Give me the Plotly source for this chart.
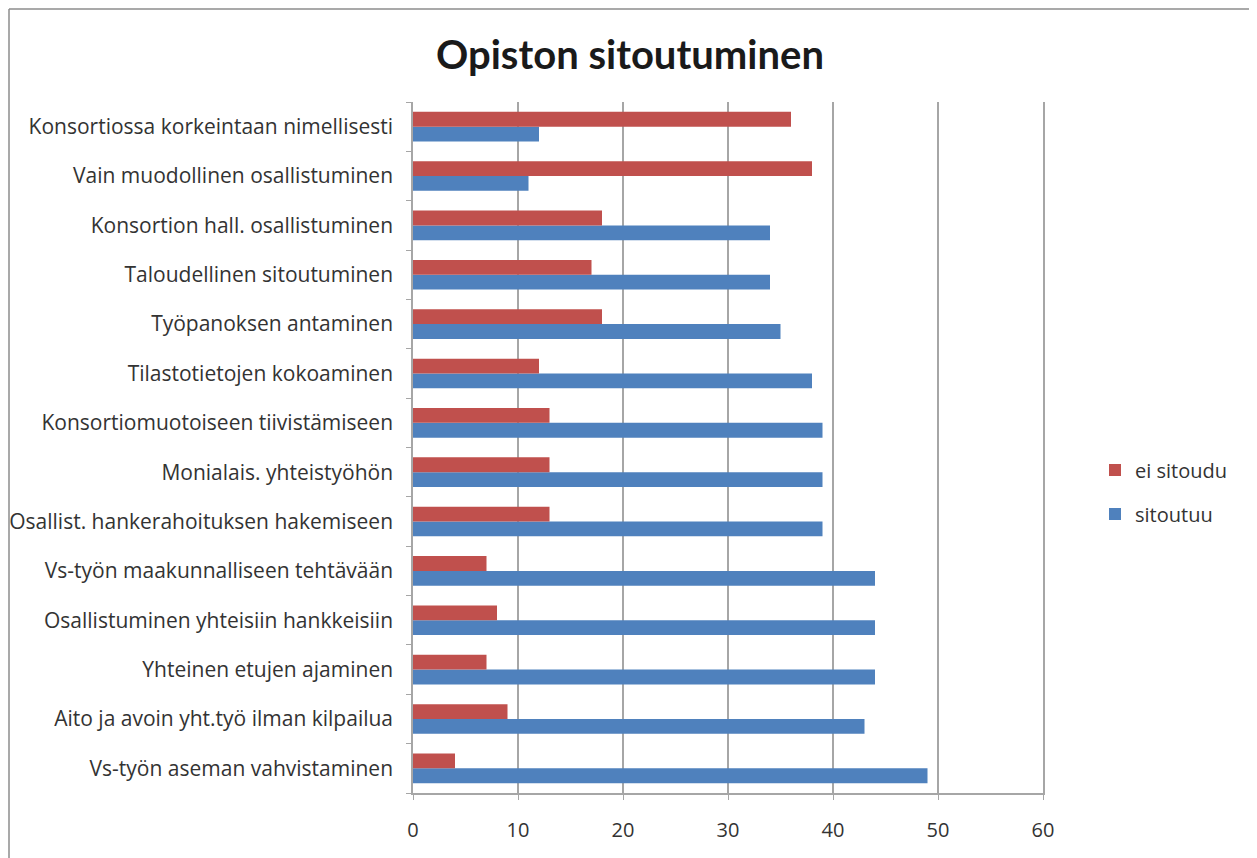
import plotly.graph_objects as go

categories = [
    "Vs-työn aseman vahvistaminen",
    "Aito ja avoin yht.työ ilman kilpailua",
    "Yhteinen etujen ajaminen",
    "Osallistuminen yhteisiin hankkeisiin",
    "Vs-työn maakunnalliseen tehtävään",
    "Osallist. hankerahoituksen hakemiseen",
    "Monialais. yhteistyöhön",
    "Konsortiomuotoiseen tiivistämiseen",
    "Tilastotietojen kokoaminen",
    "Työpanoksen antaminen",
    "Taloudellinen sitoutuminen",
    "Konsortion hall. osallistuminen",
    "Vain muodollinen osallistuminen",
    "Konsortiossa korkeintaan nimellisesti",
]
sitoutuu = [49, 43, 44, 44, 44, 39, 39, 39, 38, 35, 34, 34, 11, 12]
ei_sitoudu = [4, 9, 7, 8, 7, 13, 13, 13, 12, 18, 17, 18, 38, 36]
x_ticks = [0, 10, 20, 30, 40, 50, 60]

# the page body has an 8px margin, so the figure is laid out in its own coordinates
OFF = 8
W, H = 1257 - OFF, 858 - OFF
L, R, T, B = 413 - OFF, 1043 - OFF, 102 - OFF, 793 - OFF
PW, PH = R - L, B - T


def px(xf):
    return (xf - L) / PW


def py(yf):
    return (B - yf) / PH


fig = go.Figure()
fig.add_trace(go.Bar(y=categories, x=sitoutuu, orientation="h", name="sitoutuu",
                     legendgroup="b", legendrank=2,
                     marker=dict(color="#4F81BD", line=dict(width=0))))
fig.add_trace(go.Bar(y=categories, x=ei_sitoudu, orientation="h", name="ei sitoudu",
                     legendgroup="a", legendrank=1,
                     marker=dict(color="#C0504D", line=dict(width=0))))

font_main = "Open Sans, Lato, Arial"
font_title = "Lato, Open Sans, Arial"
txt = "#333333"
axc = "#A6A6A6"

fig.update_layout(
    width=W, height=H,
    margin=dict(l=L, r=W - R, t=T, b=H - B, autoexpand=False),
    paper_bgcolor="white", plot_bgcolor="white",
    barmode="group", bargap=0.4, bargroupgap=0,
    title=dict(text="<b>Opiston sitoutuminen</b>", x=(630 - OFF) / W, xanchor="center",
               y=1 - (55 - OFF) / H, yanchor="middle",
               font=dict(family=font_title, size=40, color="#1a1a1a")),
    xaxis=dict(range=[0, 60], tickvals=x_ticks, showgrid=True, gridcolor=axc,
               gridwidth=1.5, showline=True, linecolor=axc, linewidth=1.5,
               zeroline=False, ticks="outside", ticklen=5, tickcolor=axc,
               tickfont=dict(family=font_main, size=20, color=txt),
               ticklabelstandoff=13, fixedrange=True, automargin=False),
    yaxis=dict(showline=True, linecolor=axc, linewidth=1.5, showgrid=False,
               mirror=True, tickson="boundaries",
               ticks="outside", ticklen=5, tickcolor=axc,
               tickfont=dict(family=font_main, size=21, color=txt),
               ticklabelstandoff=14, fixedrange=True, automargin=False),
    legend=dict(x=px(1095 - OFF), y=py(492 - OFF), xanchor="left",
                yanchor="middle", traceorder="grouped",
                font=dict(family=font_main, size=20, color=txt),
                itemsizing="constant", tracegroupgap=15, bgcolor="rgba(0,0,0,0)"),
    showlegend=True,
)

# outer chart border (left and top edges visible)
fig.add_shape(type="line", xref="paper", yref="paper",
              x0=px(1), x1=px(1), y0=py(1), y1=py(H + 10),
              line=dict(color="#8C8C8C", width=1.5))
fig.add_shape(type="line", xref="paper", yref="paper",
              x0=px(1), x1=px(W + 10), y0=py(1), y1=py(1),
              line=dict(color="#8C8C8C", width=1.5))

fig.write_html("out.html")
